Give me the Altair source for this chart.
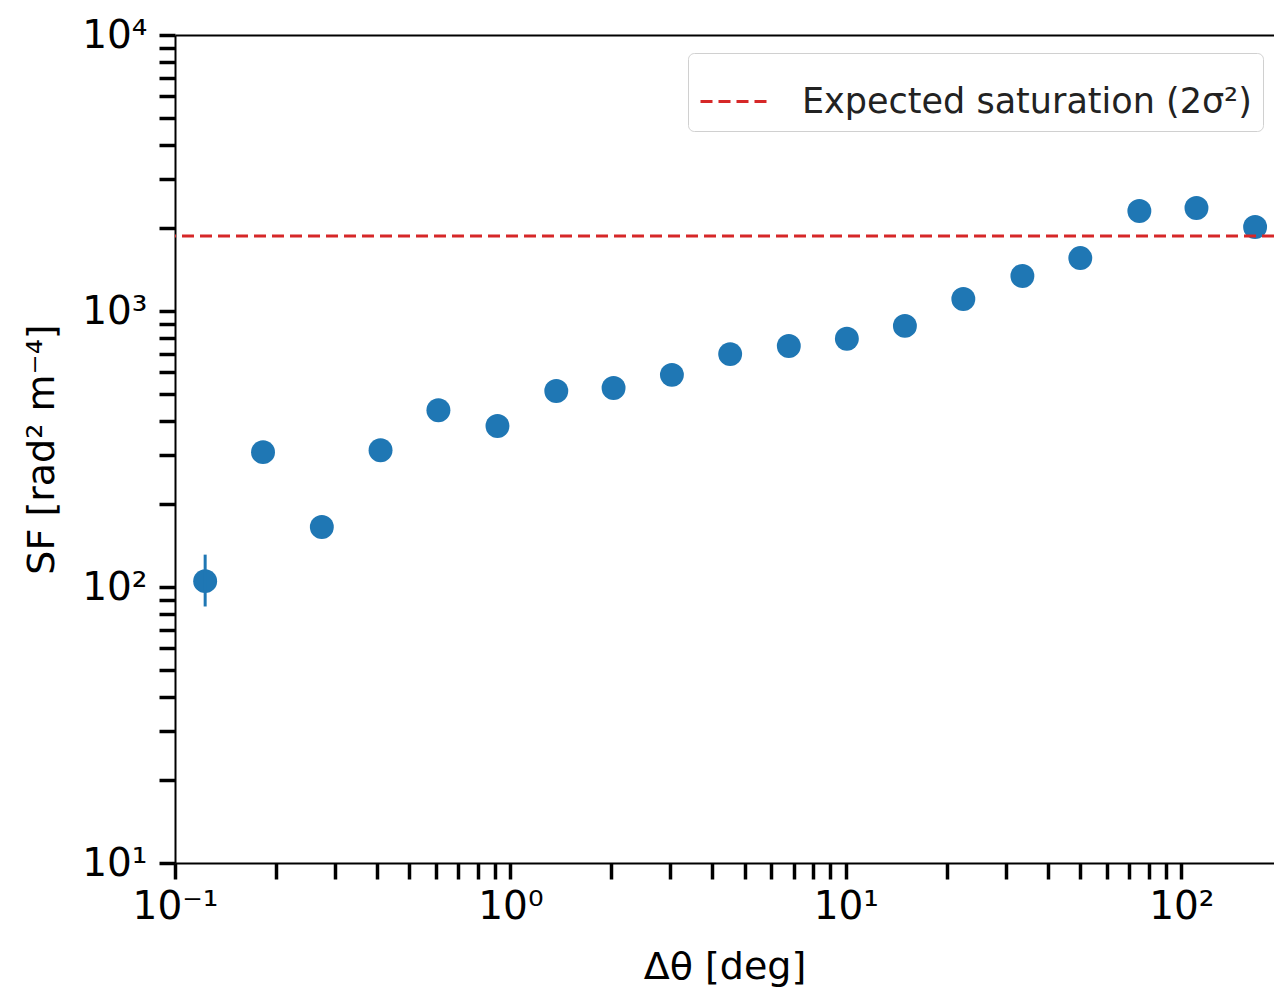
import altair as alt
import pandas as pd

# data
dtheta = [0.123, 0.183, 0.274, 0.41, 0.61, 0.915, 1.37, 2.03, 3.03, 4.52,
          6.76, 10.07, 15.0, 22.4, 33.6, 50.0, 75.0, 111.0, 166.0]
sf = [105, 308, 165, 313, 437, 383, 513, 526, 587, 698,
      747, 793, 883, 1105, 1339, 1555, 2303, 2361, 2014]
err_x = [0.123]
err_lo = [85]
err_hi = [131]
saturation = [1871]
sat_label = ["Expected saturation (2σ²)"]

x_decades = [0.1, 1, 10, 100]
x_labels = ["10⁻¹", "10⁰", "10¹", "10²"]
y_decades = [10, 100, 1000, 10000]
y_labels = ["10¹", "10²", "10³", "10⁴"]

x_ticks = [k * d for d in [0.1, 1, 10] for k in range(1, 10)] + [100]
y_ticks = [k * d for d in [10, 100, 1000] for k in range(1, 10)] + [10000]


def label_expr(vals, labs):
    s = "''"
    for v, l in zip(reversed(vals), reversed(labs)):
        s = f"(abs(datum.value - {v}) < {v}*1e-6 ? '{l}' : {s})"
    return s


points = pd.DataFrame({"x": dtheta, "y": sf})
errs = pd.DataFrame({"x": err_x, "lo": err_lo, "hi": err_hi})
sat = pd.DataFrame({"y": saturation, "label": sat_label})

xscale = alt.Scale(type="log", domain=[0.1, 189], nice=False)
yscale = alt.Scale(type="log", domain=[10, 10000], nice=False)

xaxis = alt.Axis(values=x_ticks, labelExpr=label_expr(x_decades, x_labels),
                 title="Δθ [deg]", grid=False, tickSize=16, tickWidth=3.5,
                 labelPadding=8, titlePadding=22, domainWidth=2,
                 labelFlush=False, labelOverlap=False)
yaxis = alt.Axis(values=y_ticks, labelExpr=label_expr(y_decades, y_labels),
                 title="SF [rad² m⁻⁴]", grid=False, tickSize=16, tickWidth=3.5,
                 labelPadding=12, titlePadding=20, domainWidth=2,
                 labelFlush=False, labelOverlap=False)

pts = alt.Chart(points).mark_circle(size=572, color="#1f77b4", opacity=1).encode(
    x=alt.X("x:Q", scale=xscale, axis=xaxis),
    y=alt.Y("y:Q", scale=yscale, axis=yaxis),
)

eb = alt.Chart(errs).mark_rule(color="#1f77b4", strokeWidth=3).encode(
    x=alt.X("x:Q", scale=xscale,
            axis=alt.Axis(orient="top", labels=False, ticks=False, title=None,
                          grid=False, domainWidth=2)),
    y=alt.Y("lo:Q", scale=yscale, axis=yaxis),
    y2="hi:Q",
)

rule = alt.Chart(sat).mark_rule(strokeWidth=3, strokeDash=[12, 6]).encode(
    y=alt.Y("y:Q", scale=yscale, axis=yaxis),
    color=alt.Color("label:N",
                    scale=alt.Scale(domain=sat_label, range=["#d62728"]),
                    legend=alt.Legend(title=None)),
)

chart = alt.layer(pts, eb, rule).resolve_axis(x="independent").properties(
    width=1099, height=828,
    autosize=alt.AutoSizeParams(type="none"),
    padding={"left": 175, "top": 35, "right": 0, "bottom": 125},
).configure_view(stroke=None).configure_axis(
    labelFont="DejaVu Sans", titleFont="DejaVu Sans",
    labelFontSize=39, titleFontSize=38, titleFontWeight="normal",
    labelColor="#000", titleColor="#000", domainColor="#000", tickColor="#000",
).configure_legend(
    orient="none", legendX=513, legendY=18,
    strokeColor="#d0d0d0", fillColor="white", cornerRadius=6, padding=11,
    symbolType="stroke", symbolStrokeWidth=3, symbolSize=5184,
    symbolDash=[12, 6], labelFont="DejaVu Sans", labelFontSize=35,
    labelColor="#222", labelLimit=1000, labelOffset=28,
)

chart.save("out.html", embed_options={"renderer": "svg", "actions": False})
